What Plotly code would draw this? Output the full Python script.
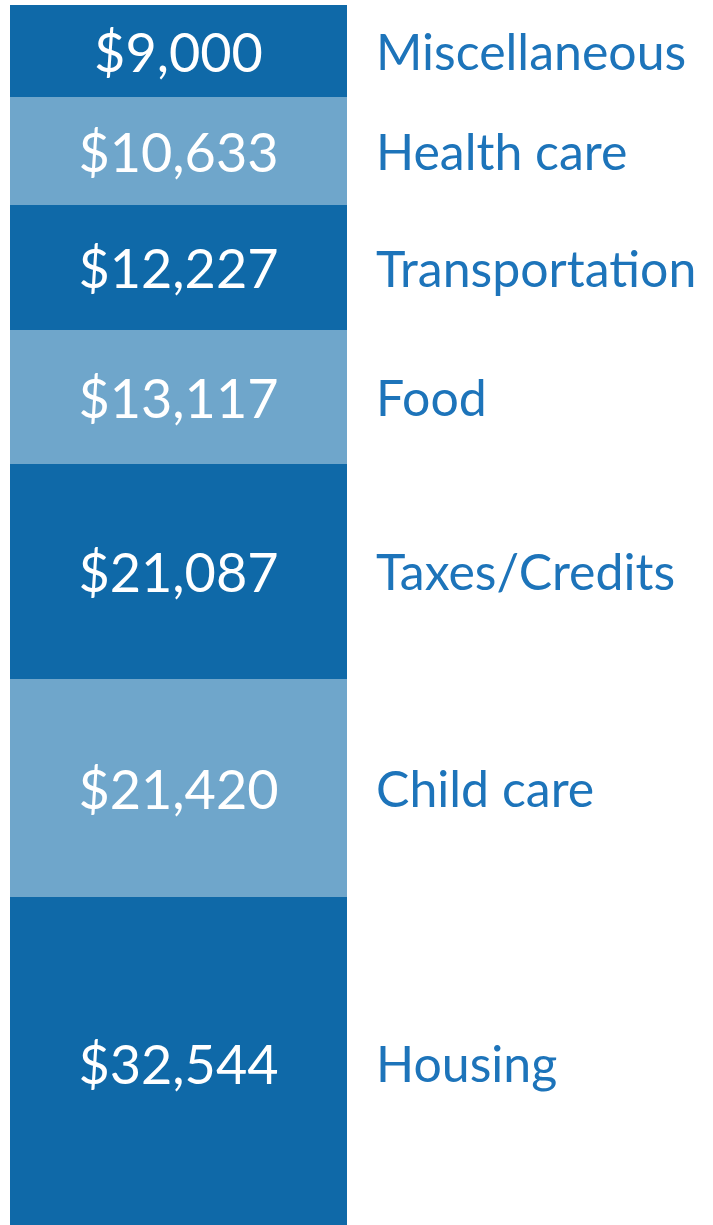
import plotly.graph_objects as go

# Data (bottom to top)
categories = ["Housing", "Child care", "Taxes/Credits", "Food",
              "Transportation", "Health care", "Miscellaneous"]
values = [32544, 21420, 21087, 13117, 12227, 10633, 9000]
value_labels = ["$32,544", "$21,420", "$21,087", "$13,117",
                "$12,227", "$10,633", "$9,000"]

DARK = "#0f69a8"
LIGHT = "#6fa6cb"
TEXT_BLUE = "#1d74ba"
colors = [DARK, LIGHT, DARK, LIGHT, DARK, LIGHT, DARK]

W, H = 713, 1225
TOP_MARGIN = 5
px_per_dollar = 0.0102

fig = go.Figure()
for cat, val, lab, col in zip(categories, values, value_labels, colors):
    fig.add_trace(go.Bar(
        x=[0], y=[val], name=cat, width=1,
        marker=dict(color=col, line=dict(width=0)),
        text=[lab], textposition="inside", insidetextanchor="middle",
        textangle=0, constraintext="none",
        textfont=dict(family="Lato", size=54, color="white"),
        hoverinfo="skip", showlegend=False,
    ))

# category labels at segment midpoints
cum = 0
for cat, val in zip(categories, values):
    mid = cum + val / 2
    cum += val
    fig.add_annotation(
        x=374 / W, xref="paper", xanchor="left",
        y=mid, yref="y", yanchor="middle",
        text=cat, showarrow=False,
        font=dict(family="Lato", size=50, color=TEXT_BLUE),
    )

total = sum(values)
plot_h = H - TOP_MARGIN
fig.update_layout(
    width=W, height=H,
    margin=dict(l=0, r=0, t=TOP_MARGIN, b=0),
    barmode="stack", bargap=0,
    paper_bgcolor="white", plot_bgcolor="white",
    xaxis=dict(domain=[10 / W, 347 / W], range=[-0.5, 0.5],
               visible=False, fixedrange=True),
    yaxis=dict(range=[total - plot_h / px_per_dollar, total],
               visible=False, fixedrange=True),
)

fig.write_html(
    "out.html",
    config={"displayModeBar": False},
    post_script="document.body.style.margin='0';document.body.style.overflow='hidden';",
)
